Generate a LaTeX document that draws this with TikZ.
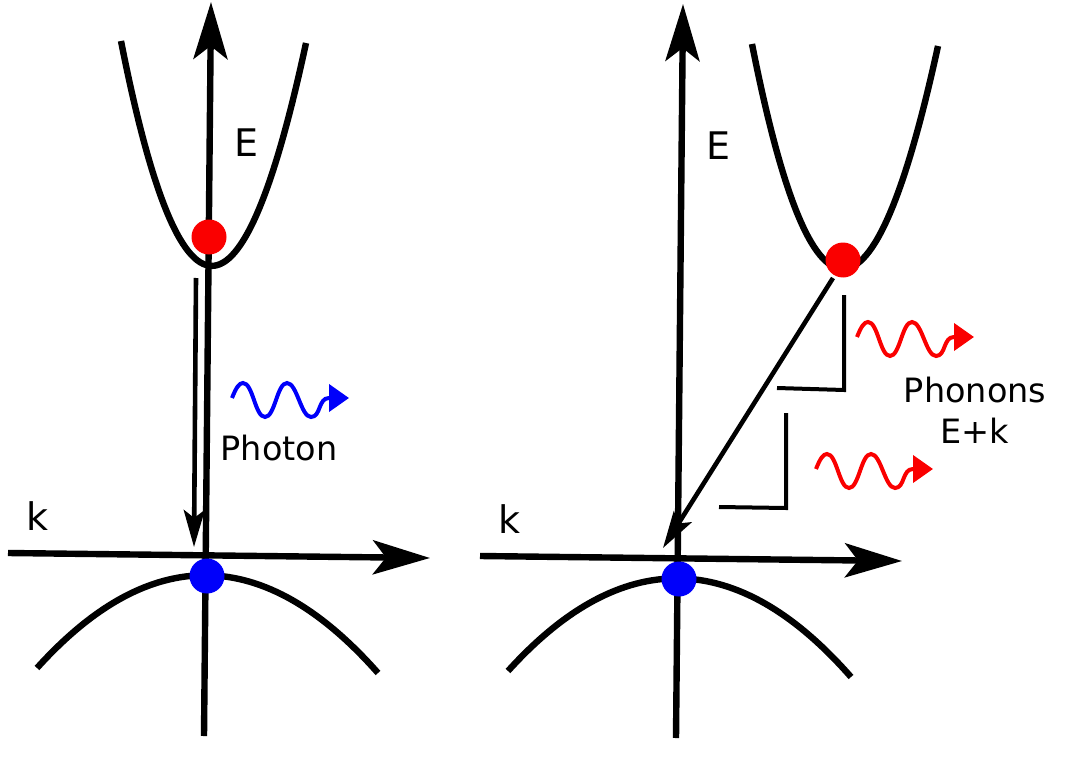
\documentclass[tikz,border=0pt]{standalone}
\usepackage{fontspec}
\setmainfont{DejaVu Sans}
\usetikzlibrary{arrows.meta}
\definecolor{pblue}{RGB}{0,0,250}
\definecolor{pred}{RGB}{250,0,0}
\tikzset{
  axis/.style={line width=6.4pt,-{Stealth[length=57pt,width=34pt,inset=13pt]}},
  band/.style={line width=6.4pt},
  trans/.style={line width=4.6pt,-{Stealth[length=37pt,width=21pt,inset=8pt]}},
  corner/.style={line width=4pt},
  dot/.style={circle,inner sep=0pt,minimum size=35pt},
  lab/.style={inner sep=0pt,anchor=base,font=\fontsize{33.5}{38}\selectfont},
  biglab/.style={inner sep=0pt,anchor=base west,font=\fontsize{38}{44}\selectfont},
  wave/.style={line width=4pt,-{Triangle[length=20pt,width=27pt]}},
}
\newcommand{\wavepath}[3]{%
  \draw[wave,#3,shift={(#1,#2)}] (232,398) .. controls (236,388) and (239,383) .. (243,383)
    .. controls (253,383) and (255,417) .. (265,417)
    .. controls (275,417) and (277,383) .. (287,383)
    .. controls (297,383) and (301,417) .. (311,417)
    .. controls (321,417) and (318,398) .. (329,398) -- (349,398);}
\begin{document}
\begin{tikzpicture}[x=1pt,y=-1pt]
\useasboundingbox (0,0) rectangle (1070,778);
% left panel
\coordinate (Lb) at (204,736);
\coordinate (Lt) at (211,2);
\coordinate (Lkl) at (8,553);
\coordinate (Lkr) at (430,558);
\draw[axis] (Lb) -- (Lt);
\draw[axis] (Lkl) -- (Lkr);
\draw[band] (121,41) .. controls (180,340) and (242,341) .. (306,43);
\draw[band] (37,668) .. controls (150,543) and (264,544) .. (378,673);
\node[dot,fill=pred] (Lred) at (209,237) {};
\node[dot,fill=pblue] (Lblue) at (207,576) {};
\coordinate (Ls) at (196,278);
\coordinate (Le) at (194,547);
\draw[trans] (Ls) -- (Le);
\wavepath{0}{0}{pblue}
\node[biglab] (LE) at (234,157) {E};
\node[biglab] (Lk) at (26,530) {k};
\node[lab] (photon) at (279,460) {Photon};
% right panel
\coordinate (Rb) at (676,738);
\coordinate (Rt) at (683,4);
\coordinate (Rkl) at (480,556);
\coordinate (Rkr) at (902,561);
\draw[axis] (Rb) -- (Rt);
\draw[axis] (Rkl) -- (Rkr);
\draw[band] (752,44) .. controls (811,343) and (873,344) .. (938,46);
\draw[band] (508,671) .. controls (621,546) and (737,547) .. (851,677);
\node[dot,fill=pred] (Rred) at (843,260) {};
\node[dot,fill=pblue] (Rblue) at (679,579) {};
\coordinate (Rs) at (833,278);
\coordinate (Re) at (663,548);
\draw[trans] (Rs) -- (Re);
\coordinate (C1a) at (844,295);
\coordinate (C1b) at (844,390);
\coordinate (C1c) at (777,388);
\draw[corner] (C1a) -- (C1b) -- (C1c);
\coordinate (C2a) at (786,413);
\coordinate (C2b) at (786,508);
\coordinate (C2c) at (719,507);
\draw[corner] (C2a) -- (C2b) -- (C2c);
\wavepath{625}{-61}{pred}
\wavepath{584}{71}{pred}
\node[biglab] (RE) at (706,160) {E};
\node[biglab] (Rk) at (498,533) {k};
\node[lab] (phonons) at (975,402) {Phonons};
\node[lab] (ek) at (975,443) {E+k};
\end{tikzpicture}
\end{document}
